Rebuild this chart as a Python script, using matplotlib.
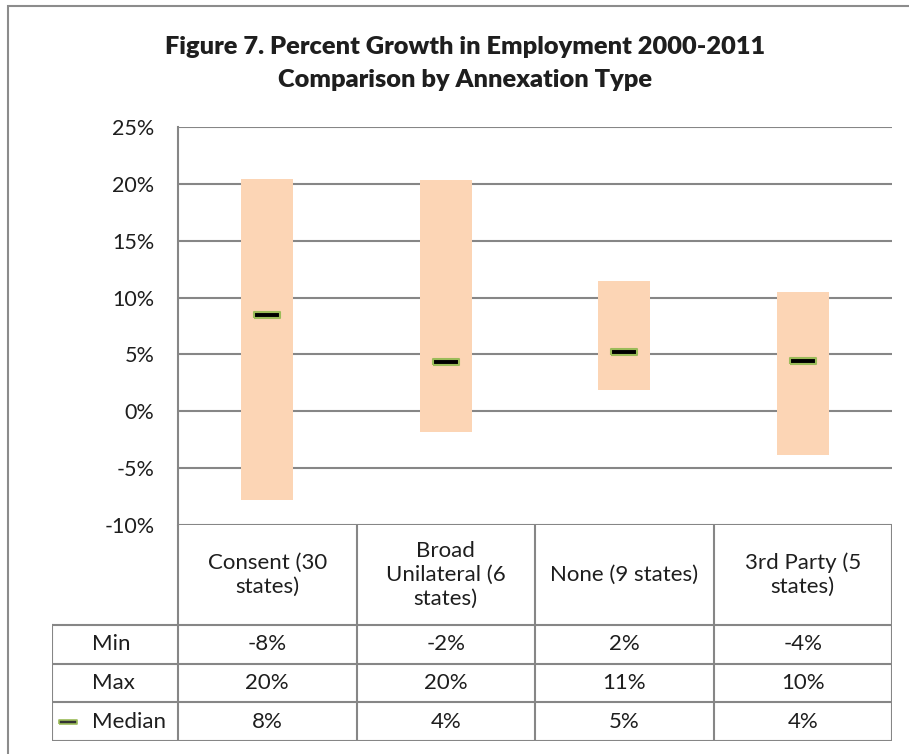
import matplotlib
matplotlib.use('Agg')

import matplotlib.pyplot as plt
from matplotlib.lines import Line2D
from matplotlib.patches import Rectangle

plt.rcParams['font.family'] = ['Lato', 'DejaVu Sans']

categories = ['Consent (30\nstates)', 'Broad\nUnilateral (6\nstates)', 'None (9 states)', '3rd Party (5\nstates)']
min_vals = [-7.8, -1.85, 1.85, -3.85]
max_vals = [20.4, 20.3, 11.45, 10.45]
median_vals = [8.45, 4.35, 5.2, 4.45]
row_labels = ['Min', 'Max', 'Median']
y_ticks = [-10, -5, 0, 5, 10, 15, 20, 25]

W, H = 909, 754
GRID = '#868686'
BAR = '#FCD5B5'
TXT = '#1E1E1E'


def fx(px):
    return px / W


def fy(py):
    return 1 - py / H


fig = plt.figure(figsize=(W / 100, H / 100), dpi=100)

# outer chart border
fig.add_artist(Rectangle((fx(8), fy(760)), fx(920 - 8), fy(6) - fy(760),
                         transform=fig.transFigure, fill=False,
                         edgecolor='#8C8C8C', linewidth=1.5))

fig.text(fx(465), fy(47), 'Figure 7. Percent Growth in Employment 2000-2011',
         ha='center', va='center', fontsize=18.3, fontweight='heavy', color=TXT)
fig.text(fx(465), fy(80), 'Comparison by Annexation Type',
         ha='center', va='center', fontsize=18.3, fontweight='heavy', color=TXT)

# plot area
left, right, top, bottom = 178, 892, 127, 525
ax = fig.add_axes([fx(left), fy(bottom), fx(right - left), fy(top) - fy(bottom)])
x = list(range(len(categories)))
heights = [hi - lo for lo, hi in zip(min_vals, max_vals)]
ax.bar(x, heights, bottom=min_vals, width=0.29, color=BAR, zorder=2)
box = [(-1, -0.2), (1, -0.2), (1, 0.2), (-1, 0.2), (-1, -0.2)]
ax.plot(x, median_vals, linestyle='none', marker=box, markersize=19,
        markerfacecolor='black', markeredgecolor='#9BBB59', markeredgewidth=1.5, zorder=3)

ax.set_xlim(-0.5, len(categories) - 0.5)
ax.set_ylim(-10, 25)
ax.set_yticks(y_ticks)
ax.set_yticklabels(['{}%'.format(t) for t in y_ticks], fontsize=15.5, color=TXT)
ax.set_xticks([])
ax.tick_params(axis='y', length=0, pad=17)
ax.grid(axis='y', color=GRID, linewidth=1.5, zorder=1)
ax.set_axisbelow(True)
for side in ['top', 'right', 'bottom']:
    ax.spines[side].set_visible(False)
ax.spines['left'].set_color(GRID)
ax.spines['left'].set_linewidth(1.5)

# data table below the plot
tab_left, tab_bottom = 52, 741
col_w = (right - left) / len(categories)
label_w = (left - tab_left) / col_w
row_h = (tab_bottom - 625) / 3
head_h = (625 - bottom) / row_h
tab = fig.add_axes([fx(tab_left), fy(tab_bottom), fx(right - tab_left), fy(bottom) - fy(tab_bottom)])
tab.set_xlim(-0.5 - label_w, len(categories) - 0.5)
tab.set_ylim(0, 3 + head_h)
tab.axis('off')


def tx(px):
    return (px - left) / col_w - 0.5


lw = 1.5
for k in range(len(categories) + 1):
    tab.add_line(Line2D([k - 0.5, k - 0.5], [0, 3 + head_h], color=GRID, linewidth=lw))
tab.add_line(Line2D([-0.5 - label_w, -0.5 - label_w], [0, 3], color=GRID, linewidth=lw))
for r in range(4):
    tab.add_line(Line2D([-0.5 - label_w, len(categories) - 0.5], [r, r], color=GRID, linewidth=lw))

for i, cat in enumerate(categories):
    tab.text(i, 3 + head_h / 2, cat, ha='center', va='center', fontsize=16,
             color=TXT, linespacing=1.25)

rows = [min_vals, max_vals, median_vals]
for r, (name, vals) in enumerate(zip(row_labels, rows)):
    yc = 2.5 - r
    tab.text(tx(92), yc, name, ha='left', va='center', fontsize=16, color=TXT)
    for i, v in enumerate(vals):
        tab.text(i, yc, '{:.0f}%'.format(v), ha='center', va='center', fontsize=16, color=TXT)

# legend key for the median row
tab.plot([tx(67.5)], [0.5], linestyle='none', marker=box, markersize=12.5,
         markerfacecolor='#333333', markeredgecolor='#9BBB59', markeredgewidth=1.2)

fig.savefig('out.png', dpi=100)
plt.close(fig)
